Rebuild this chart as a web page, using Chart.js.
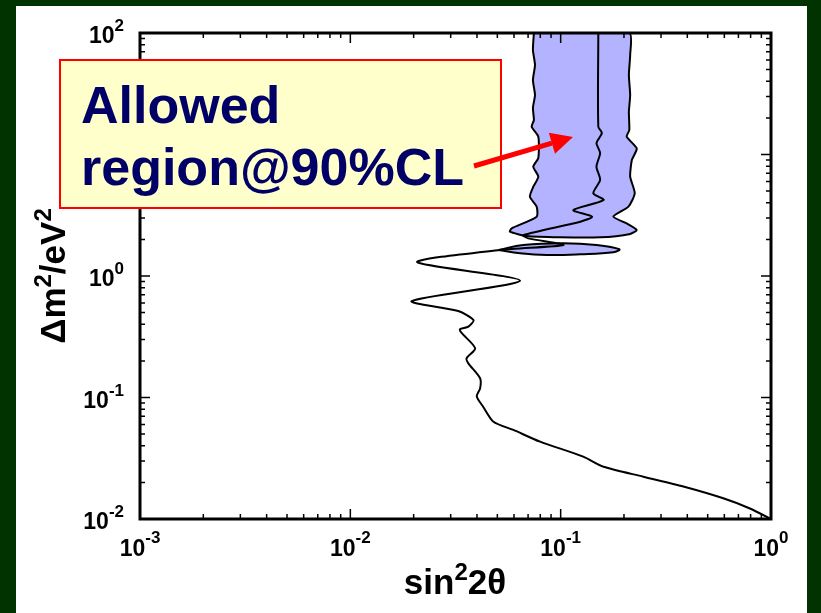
<!DOCTYPE html>
<html>
<head>
<meta charset="utf-8">
<script src="https://cdn.jsdelivr.net/npm/chart.js@4.4.0/dist/chart.umd.min.js"></script>
<style>
  html, body { margin: 0; padding: 0; background: #003300; }
  #wrap { position: relative; width: 821px; height: 613px; }
</style>
</head>
<body>
<div id="wrap"><canvas id="plot" width="821" height="613"></canvas></div>
<script>
// exclusion contour, from the top of the plot down to (1, 1e-2)
const exclX = [0.151, 0.151, 0.157, 0.148, 0.154, 0.148, 0.154, 0.143, 0.160, 0.115, 0.141, 0.124, 0.0664, 0.0701, 0.103, 0.0515,
  0.0208, 0.0641, 0.0196, 0.0326, 0.0385, 0.0364, 0.0332, 0.0338, 0.0392, 0.0357, 0.0364, 0.0414, 0.0414, 0.0399, 0.0428,
  0.0479, 0.0596, 0.0798, 0.128, 0.160, 0.247, 0.383, 0.593, 0.794, 1.0];
const exclY = [100, 16.9, 15.0, 12.4, 10.3, 7.94, 6.17, 4.80, 4.22, 3.49, 3.08, 2.80, 2.17, 2.04, 1.80, 1.64,
  1.30, 0.915, 0.622, 0.515, 0.434, 0.383, 0.364, 0.340, 0.254, 0.210, 0.191, 0.144, 0.119, 0.102, 0.0840,
  0.0632, 0.0541, 0.0433, 0.0326, 0.0269, 0.0223, 0.0185, 0.0148, 0.0122, 0.01];

// allowed region, upper band (closed outline: left edge down, lower lobe, right edge up)
const allowX = [0.0746, 0.0738, 0.0755, 0.0738, 0.0755, 0.0738, 0.0746, 0.0728, 0.0783, 0.0783, 0.0741, 0.0783, 0.0741, 0.0714,
  0.0769, 0.0769, 0.0585, 0.0574, 0.0690, 0.0993, 0.154, 0.214, 0.230, 0.206, 0.178, 0.210, 0.225, 0.214, 0.218, 0.230,
  0.206, 0.212, 0.211, 0.214, 0.211, 0.214, 0.212, 0.0746];
const allowY = [100, 72.4, 54.6, 41.0, 30.9, 24.2, 19.2, 16.9, 14.0, 9.36, 7.94, 6.57, 5.43, 4.50,
  3.72, 3.08, 2.47, 2.32, 2.13, 2.08, 2.08, 2.22, 2.39, 2.71, 3.08, 3.72, 4.80, 6.57, 9.01, 11.2,
  14.0, 15.9, 22.4, 30.9, 45.1, 65.9, 100, 100];

// allowed region, small island below the band
const islandX = [0.0506, 0.0664, 0.103, 0.148, 0.190, 0.178, 0.124, 0.0859, 0.0641, 0.0506];
const islandY = [1.64, 1.80, 1.86, 1.80, 1.66, 1.57, 1.51, 1.49, 1.54, 1.64];

// axis decades (exponents of ten) and minor tick multipliers
const xDecades = [-3, -2, -1, 0];
const yDecades = [-2, -1, 0, 1, 2];
const minorSteps = [2, 3, 4, 5, 6, 7, 8, 9];

const FONT = '"Liberation Sans", Arial, sans-serif';
const toPts = (xs, ys) => xs.map((x, i) => ({ x, y: ys[i] }));

// text runs with raised superscripts: [[text, isSup], ...]
const runWidth = (ctx, runs, size, supSize, weight) => runs.reduce((w, [t, sup]) => {
  ctx.font = `${weight} ${sup ? supSize : size}px ${FONT}`;
  return w + ctx.measureText(t).width;
}, 0);
const drawRuns = (ctx, runs, x, y, size, supSize, rise, weight) => {
  let cx = x;
  runs.forEach(([t, sup]) => {
    ctx.font = `${weight} ${sup ? supSize : size}px ${FONT}`;
    ctx.fillText(t, cx, sup ? y - rise : y);
    cx += ctx.measureText(t).width;
  });
};

const axisFrame = {
  id: 'axisFrame',
  beforeDraw(chart) {
    const { ctx, width, height } = chart;
    ctx.save();
    ctx.fillStyle = '#003300';
    ctx.fillRect(0, 0, width, height);
    ctx.fillStyle = '#ffffff';
    ctx.fillRect(16, 6, 791, height - 6);
    ctx.restore();
  },
  afterDatasetsDraw(chart) {
    const { ctx, chartArea: a, scales: { x, y } } = chart;
    ctx.save();
    ctx.strokeStyle = '#000';
    ctx.lineWidth = 1.5;
    ctx.beginPath();
    xDecades.forEach((d, i) => {
      const steps = i < xDecades.length - 1 ? [1, ...minorSteps] : [1];
      steps.forEach((m) => {
        const px = x.getPixelForValue(m * 10 ** d);
        const len = m === 1 ? 10 : 5;
        ctx.moveTo(px, a.bottom); ctx.lineTo(px, a.bottom - len);
        ctx.moveTo(px, a.top); ctx.lineTo(px, a.top + len);
      });
    });
    yDecades.forEach((d, i) => {
      const steps = i < yDecades.length - 1 ? [1, ...minorSteps] : [1];
      steps.forEach((m) => {
        const py = y.getPixelForValue(m * 10 ** d);
        const len = m === 1 ? 10 : 5;
        ctx.moveTo(a.left, py); ctx.lineTo(a.left + len, py);
        ctx.moveTo(a.right, py); ctx.lineTo(a.right - len, py);
      });
    });
    ctx.stroke();
    ctx.lineWidth = 3;
    ctx.strokeRect(a.left, a.top, a.right - a.left, a.bottom - a.top);

    // decade labels 10^n
    ctx.fillStyle = '#000';
    ctx.textBaseline = 'alphabetic';
    ctx.textAlign = 'left';
    xDecades.forEach((d) => {
      const runs = [['10', false], [String(d), true]];
      const w = runWidth(ctx, runs, 23, 17, 'bold');
      const px = x.getPixelForValue(10 ** d);
      drawRuns(ctx, runs, px - w / 2, a.bottom + 37, 23, 17, 13, 'bold');
    });
    yDecades.forEach((d) => {
      const runs = [['10', false], [String(d), true]];
      const w = runWidth(ctx, runs, 23, 17, 'bold');
      const py = y.getPixelForValue(10 ** d);
      drawRuns(ctx, runs, a.left - 16 - w, py + 10, 23, 17, 12, 'bold');
    });
    ctx.restore();
  },
  afterDraw(chart) {
    const { ctx } = chart;
    ctx.save();
    ctx.fillStyle = '#000';
    ctx.textAlign = 'left';
    // axis titles
    const xt = [['sin', false], ['2', true], ['2\u03b8', false]];
    const xw = runWidth(ctx, xt, 35, 24, 'bold');
    drawRuns(ctx, xt, 455 - xw / 2, 594, 35, 24, 14, 'bold');
    const yt = [['\u0394m', false], ['2', true], ['/eV', false], ['2', true]];
    const yw = runWidth(ctx, yt, 35, 24, 'bold');
    ctx.translate(65, 276);
    ctx.rotate(-Math.PI / 2);
    drawRuns(ctx, yt, -yw / 2, 0, 35, 24, 14, 'bold');
    ctx.restore();

    // callout box
    ctx.save();
    ctx.fillStyle = '#ffffcc';
    ctx.fillRect(60, 60, 441, 148);
    ctx.strokeStyle = '#ff0000';
    ctx.lineWidth = 2;
    ctx.strokeRect(60, 60, 441, 148);
    ctx.fillStyle = '#000066';
    ctx.font = `bold 52px ${FONT}`;
    ctx.fillText('Allowed', 81, 123);
    ctx.fillText('region@90%CL', 81, 185);

    // arrow into the allowed band
    const x0 = 474, y0 = 166, x1 = 573, y1 = 137;
    const L = Math.hypot(x1 - x0, y1 - y0);
    const ux = (x1 - x0) / L, uy = (y1 - y0) / L;
    const bx = x1 - 22 * ux, by = y1 - 22 * uy;
    ctx.strokeStyle = '#ff0000';
    ctx.fillStyle = '#ff0000';
    ctx.lineWidth = 5;
    ctx.beginPath();
    ctx.moveTo(x0, y0);
    ctx.lineTo(bx, by);
    ctx.stroke();
    ctx.beginPath();
    ctx.moveTo(x1, y1);
    ctx.lineTo(bx - 11 * uy, by + 11 * ux);
    ctx.lineTo(bx + 11 * uy, by - 11 * ux);
    ctx.closePath();
    ctx.fill();
    ctx.restore();
  }
};

new Chart(document.getElementById('plot'), {
  type: 'line',
  data: {
    datasets: [
      { data: toPts(exclX, exclY), borderColor: '#000', borderWidth: 2, pointRadius: 0, fill: false, tension: 0.25 },
      { data: toPts(allowX, allowY), borderColor: '#000', borderWidth: 2, backgroundColor: '#b3b3ff', fill: 'shape', pointRadius: 0, tension: 0.2 },
      { data: toPts(islandX, islandY), borderColor: '#000', borderWidth: 2, backgroundColor: '#b3b3ff', fill: 'shape', pointRadius: 0, tension: 0.4 }
    ]
  },
  options: {
    responsive: false,
    animation: false,
    events: [],
    layout: { padding: { left: 140, top: 33, right: 50, bottom: 94 } },
    plugins: { legend: { display: false }, tooltip: { enabled: false } },
    scales: {
      x: { type: 'logarithmic', min: 1e-3, max: 1, display: false },
      y: { type: 'logarithmic', min: 1e-2, max: 100, display: false }
    }
  },
  plugins: [axisFrame]
});
</script>
</body>
</html>
